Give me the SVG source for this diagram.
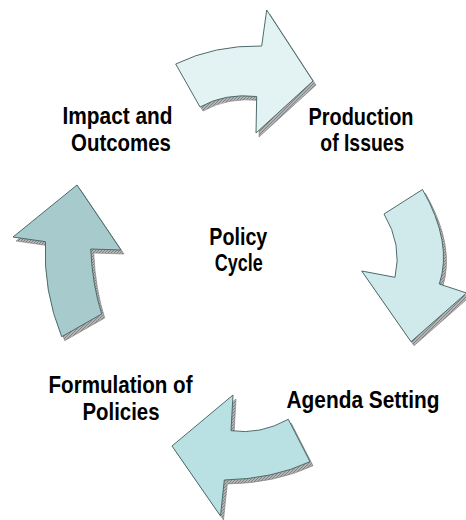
<svg xmlns="http://www.w3.org/2000/svg" width="466" height="520" viewBox="0 0 466 520">
<style>
.lbl{font-family:"Liberation Sans",Arial,sans-serif;font-weight:bold;font-size:24px;fill:#000;text-anchor:middle}
.arrow{stroke:#4d6b6b;stroke-width:1;stroke-linejoin:miter}
.shadow{fill:url(#hatch);stroke:#7a7a7a;stroke-width:0.6}
</style>
<defs>
<pattern id="hatch" width="3" height="3" patternUnits="userSpaceOnUse">
<rect width="3" height="3" fill="#b4b4b4"/>
<path d="M0,3 L3,0" stroke="#7c7c7c" stroke-width="0.9"/>
</pattern>
</defs>
<rect width="466" height="520" fill="#fff"/>
<g id="connectors">
<g id="arrow-top">
<path class="shadow" transform="translate(3,4)" d="M175.7,64 Q214.7,45 261.7,46 L266.7,10 L313,81 L256,133 L256.7,96.5 Q225,92.9 200,107 Z"/>
<path class="arrow" fill="#e3f3f3" d="M175.7,64 Q214.7,45 261.7,46 L266.7,10 L313,81 L256,133 L256.7,96.5 Q225,92.9 200,107 Z"/>
</g>
<g id="arrow-right">
<path class="shadow" transform="translate(3,4)" d="M384,214 L422.5,189.5 Q453,243 439.3,284 L466.5,293 L411,341.7 L361.7,271 L395,277.3 Q402.5,244.5 384,214 Z"/>
<path class="arrow" fill="#d0eaec" d="M384,214 L422.5,189.5 Q453,243 439.3,284 L466.5,293 L411,341.7 L361.7,271 L395,277.3 Q402.5,244.5 384,214 Z"/>
</g>
<g id="arrow-bottom">
<path class="shadow" transform="translate(3,4)" d="M172,446 L233,395 L231,430.7 Q260.3,435 288.3,419.3 L310,461.7 Q272.8,479.1 224.3,480 L220.5,516 Z"/>
<path class="arrow" fill="#b9e0e3" d="M172,446 L233,395 L231,430.7 Q260.3,435 288.3,419.3 L310,461.7 Q272.8,479.1 224.3,480 L220.5,516 Z"/>
</g>
<g id="arrow-left">
<path class="shadow" transform="translate(3,4)" d="M77,185 L121,250 L90.7,249 Q92.4,285.1 101.7,314 L61.7,336.7 Q43,290.8 45.5,241.7 L13,237 Z"/>
<path class="arrow" fill="#a7cbcd" d="M77,185 L121,250 L90.7,249 Q92.4,285.1 101.7,314 L61.7,336.7 Q43,290.8 45.5,241.7 L13,237 Z"/>
</g>
</g>
<g id="node-impact">
<text class="lbl" x="117.5" y="124" textLength="110" lengthAdjust="spacingAndGlyphs">Impact and</text>
<text class="lbl" x="121" y="151" textLength="100" lengthAdjust="spacingAndGlyphs">Outcomes</text>
</g>
<g id="node-production">
<text class="lbl" x="361" y="125" textLength="105" lengthAdjust="spacingAndGlyphs">Production</text>
<text class="lbl" x="362.3" y="151" textLength="84" lengthAdjust="spacingAndGlyphs">of Issues</text>
</g>
<g id="node-center">
<text class="lbl" x="238.3" y="245" textLength="58" lengthAdjust="spacingAndGlyphs">Policy</text>
<text class="lbl" x="238.8" y="271" textLength="48" lengthAdjust="spacingAndGlyphs">Cycle</text>
</g>
<g id="node-formulation">
<text class="lbl" x="120.5" y="393" textLength="144" lengthAdjust="spacingAndGlyphs">Formulation of</text>
<text class="lbl" x="121" y="420" textLength="77" lengthAdjust="spacingAndGlyphs">Policies</text>
</g>
<g id="node-agenda">
<text class="lbl" x="363" y="408" textLength="153" lengthAdjust="spacingAndGlyphs">Agenda Setting</text>
</g>
</svg>
